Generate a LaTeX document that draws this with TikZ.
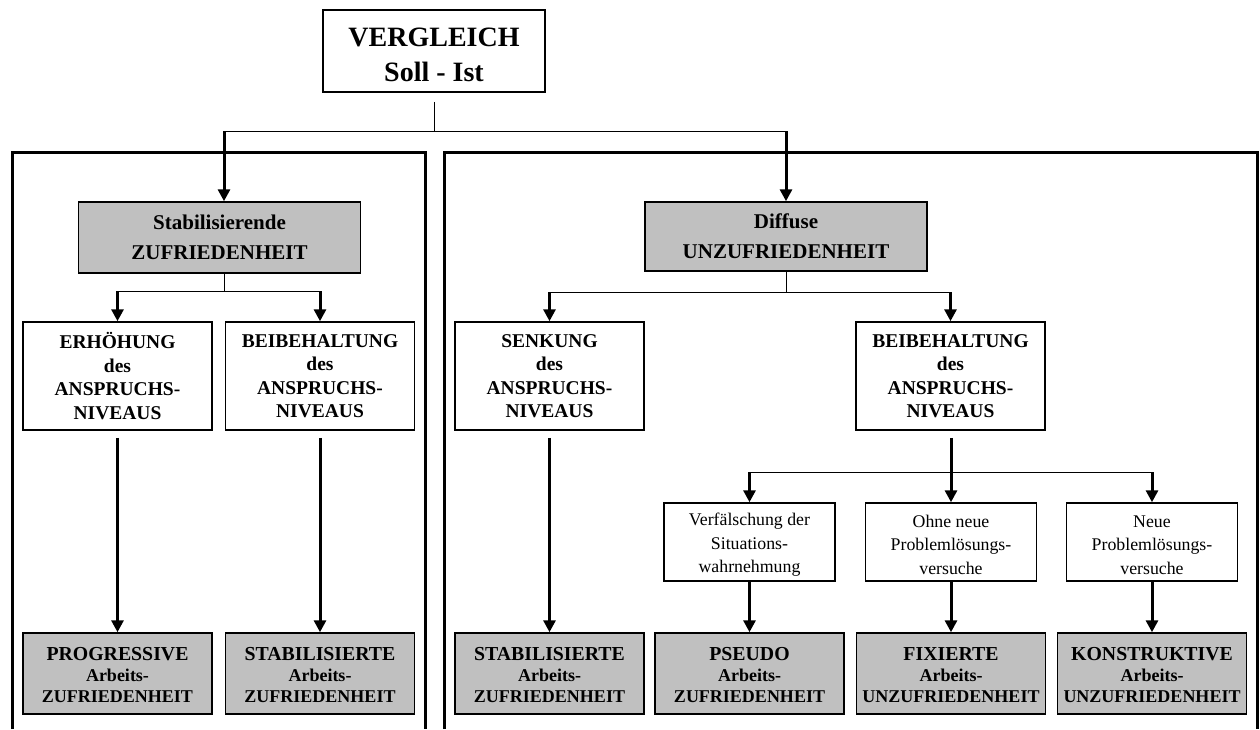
\documentclass[tikz,border=0pt]{standalone}
\usepackage{fontspec}
\setmainfont{Liberation Serif}
\usetikzlibrary{arrows.meta}
\definecolor{boxgray}{RGB}{192,192,192}
\newcommand\setfs[2]{\fontsize{#1}{#2}\selectfont}
% invisible strut on a first line: lowers a centred text block a little
\newcommand\topstrut[1]{\rule{0pt}{#1}}
% first, larger line of a result box
\newcommand\reshead[1]{{\setfs{19.8}{22}\topstrut{17pt}#1}}
\begin{document}
\begin{tikzpicture}[x=1pt,y=-1pt,
  box/.style={draw=black, line width=1.5pt, inner sep=0pt, align=center, anchor=center},
  graybox/.style={box, fill=boxgray},
  titlebox/.style={box, minimum width=222pt, minimum height=82pt, font=\bfseries\setfs{28}{35}},
  headbox/.style={graybox, minimum width=282pt, font=\bfseries\setfs{21}{30}},
  levelbox/.style={box, minimum width=189pt, minimum height=108pt, font=\bfseries\setfs{19.5}{23.5}},
  smallbox/.style={box, minimum width=171pt, minimum height=78pt, font=\setfs{17.8}{23.5}},
  resultbox/.style={graybox, minimum width=189pt, minimum height=81pt, font=\bfseries\setfs{18}{21}},
  thinln/.style={line width=1pt},
  frameln/.style={line width=3pt},
  arr/.style={line width=3pt, -{Triangle[width=12pt,length=12pt]}},
]
\useasboundingbox (0,0) rectangle (1260,729);

% panel frames, open at the bottom
\draw[frameln] (12,729) -- (12,152) -- (425,152) -- (425,729);
\draw[frameln] (444,729) -- (444,152) -- (1257,152) -- (1257,729);

% boxes
\node[titlebox] (top) at (434,51) {\topstrut{26pt}VERGLEICH\\Soll - Ist};

\node[headbox, minimum height=71pt] (stab) at (219.5,237.5) {Stabilisierende\\ZUFRIEDENHEIT};
\node[headbox, minimum height=69pt] (diff) at (786,236.5) {Diffuse\\UNZUFRIEDENHEIT};

\node[levelbox] (erh)   at (117.5,376) {ERHÖHUNG\\des\\ANSPRUCHS-\\NIVEAUS};
\node[levelbox] (beibl) at (320,376)   {BEIBEHALTUNG\\des\\ANSPRUCHS-\\NIVEAUS};
\node[levelbox] (senk)  at (549.5,376) {SENKUNG\\des\\ANSPRUCHS-\\NIVEAUS};
\node[levelbox] (beibr) at (950.5,376) {BEIBEHALTUNG\\des\\ANSPRUCHS-\\NIVEAUS};

\node[smallbox] (verf) at (749.5,542) {\topstrut{18pt}Verfälschung der\\Situations-\\wahrnehmung};
\node[smallbox] (ohne) at (951,542)   {\topstrut{18pt}Ohne neue\\Problemlösungs-\\versuche};
\node[smallbox] (neue) at (1152,542)  {\topstrut{18pt}Neue\\Problemlösungs-\\versuche};

\node[resultbox] (prog)   at (117.5,673.5) {\reshead{PROGRESSIVE}\\Arbeits-\\ZUFRIEDENHEIT};
\node[resultbox] (stabl)  at (320,673.5)   {\reshead{STABILISIERTE}\\Arbeits-\\ZUFRIEDENHEIT};
\node[resultbox] (stabr)  at (549.5,673.5) {\reshead{STABILISIERTE}\\Arbeits-\\ZUFRIEDENHEIT};
\node[resultbox] (pseudo) at (749.5,673.5) {\reshead{PSEUDO}\\Arbeits-\\ZUFRIEDENHEIT};
\node[resultbox] (fix)    at (951,673.5)   {\reshead{FIXIERTE}\\Arbeits-\\UNZUFRIEDENHEIT};
\node[resultbox] (konst)  at (1152,673.5)  {\reshead{KONSTRUKTIVE}\\Arbeits-\\UNZUFRIEDENHEIT};

% top level split
\coordinate (busA)  at (434,131);
\coordinate (busAl) at (224,131);
\coordinate (busAr) at (786,131);
\draw[thinln, shorten <=9pt] (top.south) -- (busA);
\draw[thinln] (busAl) -- (busAr);
\draw[arr] (busAl) -- (busAl |- stab.north);
\draw[arr] (busAr) -- (diff.north);

% split below the satisfaction box
\coordinate (busB) at (224,291);
\draw[thinln] (busB |- stab.south) -- (busB);
\draw[thinln] (erh.north |- busB) -- (beibl.north |- busB);
\draw[arr] (erh.north |- busB) -- (erh.north);
\draw[arr] (beibl.north |- busB) -- (beibl.north);

% split below the dissatisfaction box
\coordinate (busC) at (786,292);
\draw[thinln] (diff.south) -- (busC);
\draw[thinln] (senk.north |- busC) -- (beibr.north |- busC);
\draw[arr] (senk.north |- busC) -- (senk.north);
\draw[arr] (beibr.north |- busC) -- (beibr.north);

% long arrows to the results
\draw[arr, shorten <=7pt] (erh.south) -- (prog.north);
\draw[arr, shorten <=7pt] (beibl.south) -- (stabl.north);
\draw[arr, shorten <=7pt] (senk.south) -- (stabr.north);

% three reactions when the level is kept
\coordinate (busD) at (951,472);
\draw[thinln] (verf.north |- busD) -- (neue.north |- busD);
\draw[arr, shorten <=7pt] (ohne.north |- beibr.south) -- (ohne.north);
\draw[arr] (verf.north |- busD) -- (verf.north);
\draw[arr] (neue.north |- busD) -- (neue.north);

\draw[arr] (verf.south) -- (pseudo.north);
\draw[arr] (ohne.south) -- (fix.north);
\draw[arr] (neue.south) -- (konst.north);
\end{tikzpicture}
\end{document}
